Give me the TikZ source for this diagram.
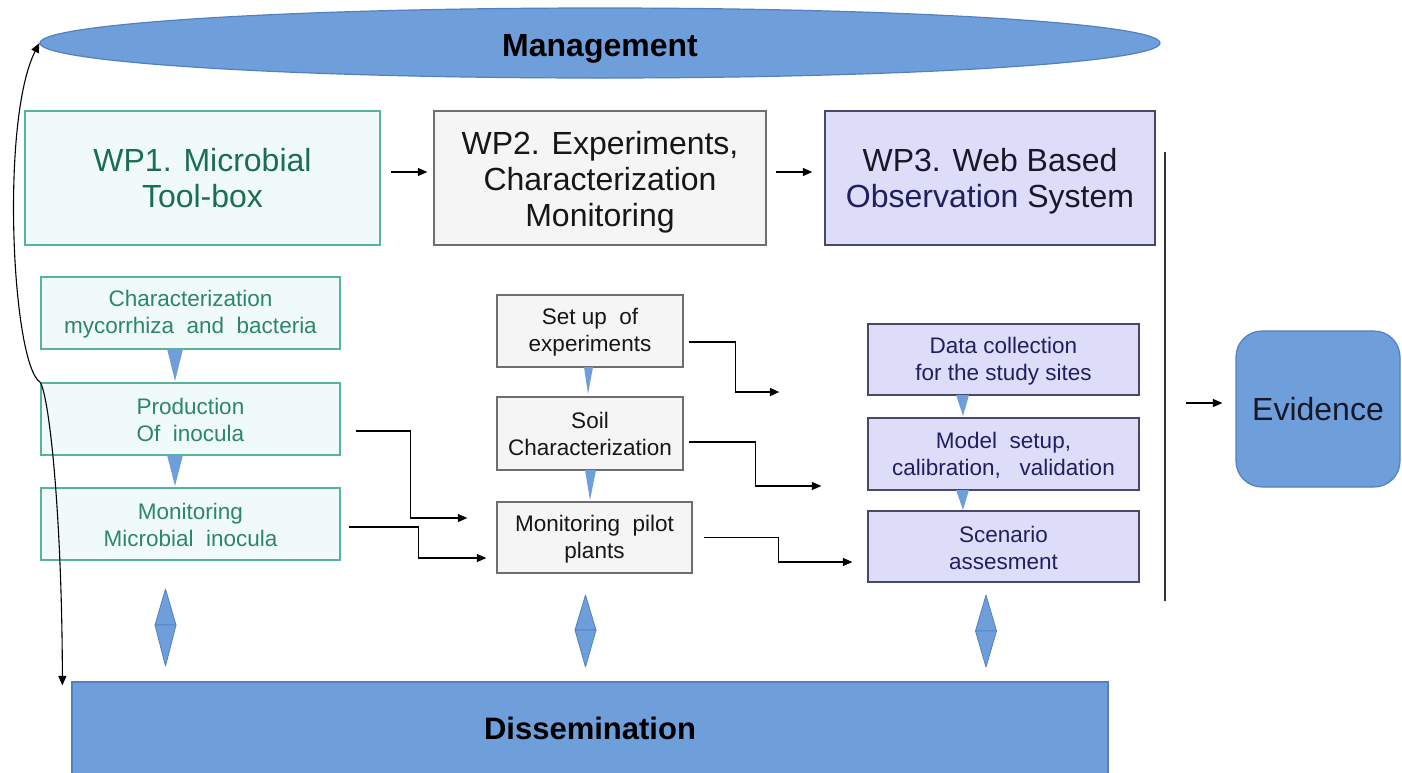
\documentclass[tikz,border=0pt]{standalone}
\usepackage{fontspec}
\setmainfont{Liberation Sans}
\usetikzlibrary{shapes.geometric,arrows.meta,calc}
\definecolor{blu}{RGB}{111,159,219}
\definecolor{bluline}{RGB}{82,128,192}
\definecolor{wponefill}{RGB}{240,251,249}
\definecolor{wponeline}{RGB}{88,178,158}
\definecolor{wponetext}{RGB}{26,110,82}
\definecolor{wponesmall}{RGB}{44,134,104}
\definecolor{wptwofill}{RGB}{245,245,245}
\definecolor{wptwoline}{RGB}{110,110,110}
\definecolor{wptwotext}{RGB}{22,22,22}
\definecolor{wpthreefill}{RGB}{221,221,250}
\definecolor{wpthreeline}{RGB}{72,72,104}
\definecolor{wpthreetext}{RGB}{24,24,40}
\definecolor{navy}{RGB}{30,32,96}
\begin{document}
\begin{tikzpicture}[x=1pt,y=-1pt]
\tikzset{
  bigfont/.style={font=\fontsize{32}{36}\selectfont},
  smallfont/.style={font=\fontsize{22.5}{27}\selectfont},
  boxbase/.style={rectangle, align=center, inner sep=0pt, line width=1.3pt},
  wpone/.style={boxbase, draw=wponeline, fill=wponefill, text=wponetext},
  wponesub/.style={boxbase, draw=wponeline, fill=wponefill, text=wponesmall, smallfont, minimum width=299pt, minimum height=72pt},
  wptwo/.style={boxbase, draw=wptwoline, fill=wptwofill, text=wptwotext},
  wptwosub/.style={wptwo, smallfont, minimum height=72pt},
  wpthree/.style={boxbase, draw=wpthreeline, fill=wpthreefill, text=wpthreetext},
  wpthreesub/.style={boxbase, draw=wpthreeline, fill=wpthreefill, text=navy, smallfont, minimum width=271pt, minimum height=71pt},
  bluebox/.style={fill=blu, draw=bluline, line width=1.2pt, text=black, inner sep=0pt},
  arr/.style={-{Triangle[length=9.5pt,width=8pt]}, line width=1.25pt, black},
  tri/.style={fill=blu},
  dia/.style={fill=blu, draw=bluline, line width=0.8pt, line join=round}
}
\fill[white] (0,0) rectangle (1402,772);
\useasboundingbox (0,0) rectangle (1402,772);

% top and bottom bands
\node[bluebox, ellipse, minimum width=1120pt, minimum height=70pt, font=\fontsize{32}{36}\selectfont\bfseries] (mgmt) at (600,43) {\rule{0pt}{33pt}Management};
\node[bluebox, rectangle, minimum width=1036pt, minimum height=92pt, font=\fontsize{31}{36}\selectfont\bfseries] (diss) at (590,728) {Dissemination};

% work packages
\node[wpone, bigfont, minimum width=355pt, minimum height=134pt] (wp1) at (202.5,178) {WP1. Microbial\\Tool-box};
\node[wptwo, bigfont, minimum width=332pt, minimum height=134pt] (wp2) at (600,178) {\rule{0pt}{31pt}WP2. Experiments,\\Characterization\\Monitoring};
\node[wpthree, bigfont, minimum width=330pt, minimum height=134pt] (wp3) at (990,178) {\rule{0pt}{29pt}WP3. Web Based\\\textcolor{navy}{Observation} System};

% evidence
\node[bluebox, rectangle, rounded corners=26pt, minimum width=164pt, minimum height=156pt, text=wpthreetext, bigfont] (evid) at (1318,409) {Evidence};

% WP1 sub boxes
\node[wponesub] (c1) at (190.5,313) {\rule{0pt}{19pt}Characterization\\mycorrhiza\ \ and\ \ bacteria};
\node[wponesub] (c2) at (190.5,419) {\rule{0pt}{19pt}Production\\Of\ \ inocula};
\node[wponesub] (c3) at (190.5,524) {\rule{0pt}{19pt}Monitoring\\Microbial\ \ inocula};

% WP2 sub boxes
\node[wptwosub, minimum width=186pt] (m1) at (590,331) {\rule{0pt}{19pt}Set\ up\ \ of\\experiments};
\node[wptwosub, minimum width=186pt, minimum height=73pt] (m2) at (590,433.5) {Soil\\Characterization};
\node[wptwosub, minimum width=195pt, minimum height=71pt] (m3) at (594.5,537.5) {\rule{0pt}{19pt}Monitoring\ \ pilot\\plants};

% WP3 sub boxes
\node[wpthreesub] (r1) at (1003.5,359.5) {\rule{0pt}{19pt}Data\ collection\\for the\ study\ sites};
\node[wpthreesub, minimum height=72pt] (r2) at (1003.5,454) {\rule{0pt}{19pt}Model\ \ setup,\\calibration,\ \ \ validation};
\node[wpthreesub] (r3) at (1003.5,546.5) {\rule{0pt}{19pt}Scenario\\assesment};

% small flow triangles
\fill[tri] (167,349) -- (183,349) -- (175,381) -- cycle;
\fill[tri] (167,455) -- (183,455) -- (175,486) -- cycle;
\fill[tri] (584,367) -- (593,367) -- (588,394) -- cycle;
\fill[tri] (585,470) -- (596,470) -- (590,500) -- cycle;
\fill[tri] (956,395) -- (969,395) -- (963,416) -- cycle;
\fill[tri] (956,490) -- (969,490) -- (963,510) -- cycle;

% double-headed diamonds to dissemination
\filldraw[dia] (155,625) -- (165.5,589) -- (176,625) -- cycle;
\filldraw[dia] (155,625) -- (165.5,666) -- (176,625) -- cycle;
\filldraw[dia] (575,630) -- (585.5,595) -- (596,630) -- cycle;
\filldraw[dia] (575,630) -- (585.5,667) -- (596,630) -- cycle;
\filldraw[dia] (975.5,631) -- (986,595) -- (996.5,631) -- cycle;
\filldraw[dia] (975.5,631) -- (986,667) -- (996.5,631) -- cycle;

% arrows between work packages
\draw[arr, shorten <=10pt, shorten >=6pt] ([yshift=6pt]wp1.east) -- ([yshift=6pt]wp2.west);
\draw[arr, shorten <=9pt, shorten >=12pt] ([yshift=6pt]wp2.east) -- ([yshift=6pt]wp3.west);

% separator line and evidence arrow
\coordinate (septop) at (1165,152);
\coordinate (sepbot) at (1165,601);
\draw[line width=1.2pt, black!80] (septop) -- (sepbot);
\coordinate (sepmid) at (1165,403);
\draw[arr, shorten <=21pt, shorten >=13pt] (sepmid) -- (sepmid -| evid.west);

% elbow connectors
\coordinate (e1) at ($(m3.west)+(-29,-19.5)$);
\coordinate (e2) at ($(m3.west)+(-10,20.5)$);
\coordinate (e3) at ($(r1.west)+(-88,32.5)$);
\coordinate (e4) at ($(r2.west)+(-46,32)$);
\coordinate (e5) at ($(r3.west)+(-15,15.5)$);
\draw[arr] ($(c2.east)+(15,12)$) -- ++(55,0) |- (e1);
\draw[arr] ($(c3.east)+(8,3)$) -- ++(70,0) |- (e2);
\draw[arr] ($(m1.east)+(5,11)$) -- ++(47,0) |- (e3);
\draw[arr] ($(m2.east)+(5,8.5)$) -- ++(67,0) |- (e4);
\draw[arr] ($(m3.east)+(11,0)$) -- ++(75,0) |- (e5);

% side arrows to management and dissemination
\coordinate (dissin) at ($(diss.north west)+(-9,4)$);
\draw[arr, line width=1.1pt] (c2.north west) .. controls (12,365) and (0,120) .. (mgmt.west);
\draw[arr, line width=1.1pt] (c2.north west) .. controls (50,400) and (62,520) .. (dissin);
\end{tikzpicture}
\end{document}
